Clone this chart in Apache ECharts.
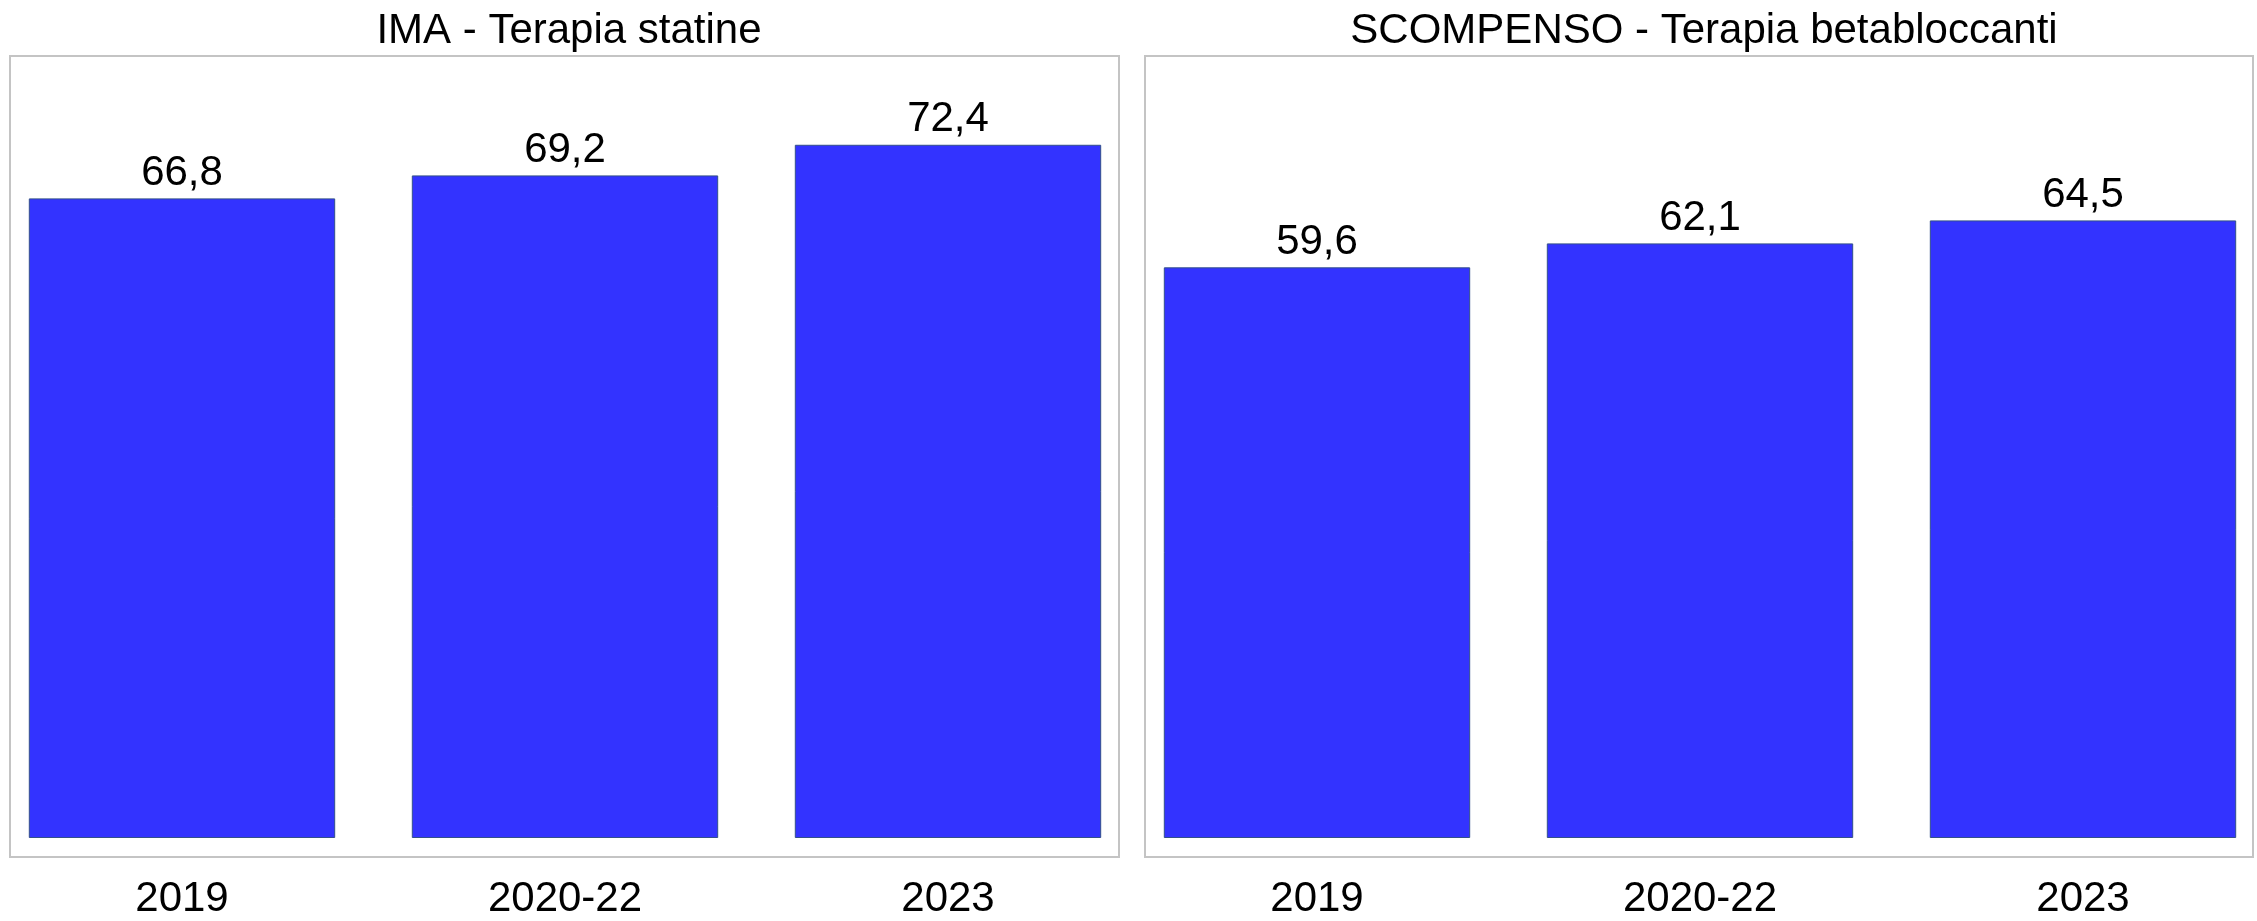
<!DOCTYPE html>
<html>
<head>
<meta charset="utf-8">
<script src="https://cdn.jsdelivr.net/npm/echarts@6/dist/echarts.min.js"></script>
<style>
  html, body { margin: 0; padding: 0; background: #fff; }
  #chart { width: 2257px; height: 921px; }
</style>
</head>
<body>
<div id="chart"></div>
<script>
// dati
var anni = ['2019', '2020-22', '2023'];
var statine = [66.8, 69.2, 72.4];
var betabloccanti = [59.6, 62.1, 64.5];
var titoli = ['IMA - Terapia statine', 'SCOMPENSO - Terapia betabloccanti'];

var font = 'Liberation Sans, Arial, sans-serif';

function virgola(p) {
  return String(p.value).replace('.', ',');
}

function serie(idx, dati) {
  return {
    type: 'bar',
    xAxisIndex: idx,
    yAxisIndex: idx,
    data: dati,
    barCategoryGap: '20%',
    itemStyle: { color: '#3333ff', borderColor: '#33508a', borderWidth: 1 },
    label: {
      show: true,
      position: 'top',
      distance: 4,
      formatter: virgola,
      fontFamily: font,
      fontSize: 42,
      color: '#000'
    }
  };
}

function asseX(idx) {
  return {
    type: 'category',
    gridIndex: idx,
    data: anni,
    axisLine: { show: false },
    axisTick: { show: false },
    axisLabel: { fontFamily: font, fontSize: 42, color: '#000', margin: 40 }
  };
}

function asseY(idx) {
  return { type: 'value', gridIndex: idx, min: 0, max: 80, show: false, splitLine: { show: false } };
}

var chart = echarts.init(document.getElementById('chart'));
chart.setOption({
  animation: false,
  title: [
    { text: titoli[0], left: 564, top: 5, textAlign: 'center',
      textStyle: { fontFamily: font, fontSize: 42, fontWeight: 'normal', color: '#000' } },
    { text: titoli[1], left: 1699, top: 5, textAlign: 'center',
      textStyle: { fontFamily: font, fontSize: 42, fontWeight: 'normal', color: '#000' } }
  ],
  graphic: [
    { type: 'rect', shape: { x: 10, y: 56, width: 1109, height: 801 }, style: { fill: null, stroke: '#c4c4c4', lineWidth: 2 }, z: -1 },
    { type: 'rect', shape: { x: 1145, y: 56, width: 1108, height: 801 }, style: { fill: null, stroke: '#c4c4c4', lineWidth: 2 }, z: -1 }
  ],
  grid: [
    { left: -9.5, width: 1149, top: 72, height: 766, outerBoundsMode: 'none', containLabel: false },
    { left: 1125.5, width: 1149, top: 72, height: 766, outerBoundsMode: 'none', containLabel: false }
  ],
  xAxis: [asseX(0), asseX(1)],
  yAxis: [asseY(0), asseY(1)],
  series: [serie(0, statine), serie(1, betabloccanti)]
});
</script>
</body>
</html>
